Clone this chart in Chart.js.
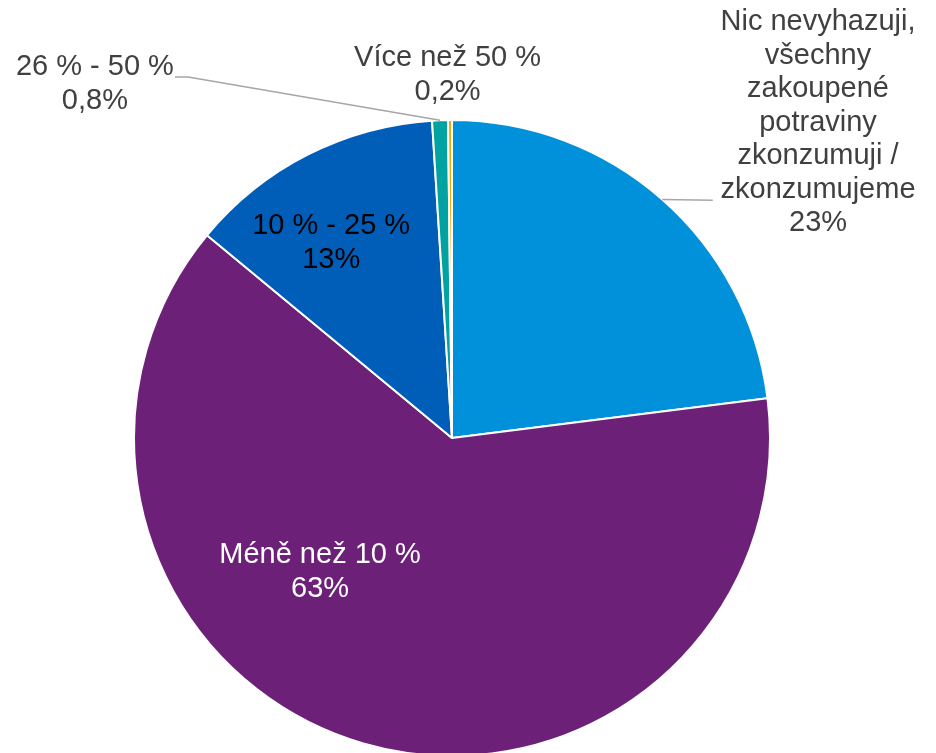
<!DOCTYPE html>
<html>
<head>
<meta charset="utf-8">
<script src="https://cdn.jsdelivr.net/npm/chart.js@4.4.1/dist/chart.umd.min.js"></script>
<style>
  html, body { margin: 0; padding: 0; background: #fff; overflow: hidden; }
  #wrap { position: relative; width: 936px; height: 757px; }
</style>
</head>
<body>
<div id="wrap"><canvas id="pie"></canvas></div>
<script>
  const categories = [
    'Nic nevyhazuji,\nvšechny\nzakoupené\npotraviny\nzkonzumuji /\nzkonzumujeme',
    'Méně než 10 %',
    '10 % - 25 %',
    '26 % - 50 %',
    'Více než 50 %'
  ];
  const values = [23, 63, 13, 0.8, 0.2];
  const colors = ['#0091DA', '#6D2077', '#005EB8', '#00A3A1', '#EAAA00'];

  // label placement, in units of the pie radius from its centre
  const labelPos = [
    { dx: 1.151, dy: -0.992, color: '#404040', leader: [[0.82, -0.748]] },
    { dx: -0.415, dy: 0.421, color: '#ffffff' },
    { dx: -0.380, dy: -0.613, color: '#000000' },
    { dx: -1.123, dy: -1.113, color: '#404040', leader: [[-0.830, -1.135], [-0.871, -1.135]] },
    { dx: -0.014, dy: -1.142, color: '#404040' }
  ];

  function pct(v) {
    return (v >= 1 ? String(v) : String(v).replace('.', ',')) + '%';
  }

  const sliceLabels = {
    id: 'sliceLabels',
    afterDraw(chart) {
      const ctx = chart.ctx;
      const arcs = chart.getDatasetMeta(0).data;
      const lineH = 33.5;
      ctx.save();
      ctx.font = '29px "Liberation Sans", Arial, sans-serif';
      ctx.textAlign = 'center';
      ctx.textBaseline = 'middle';
      arcs.forEach(function(arc, i) {
        const p = labelPos[i];
        const r = arc.outerRadius;
        const cx = arc.x, cy = arc.y;
        if (p.leader) {
          const mid = (arc.startAngle + arc.endAngle) / 2;
          ctx.beginPath();
          ctx.strokeStyle = '#A6A6A6';
          ctx.lineWidth = 1.5;
          ctx.moveTo(cx + Math.cos(mid) * r, cy + Math.sin(mid) * r);
          p.leader.forEach(function(pt) {
            ctx.lineTo(cx + pt[0] * r, cy + pt[1] * r);
          });
          ctx.stroke();
        }
        const lines = categories[i].split('\n').concat([pct(values[i])]);
        const x = cx + p.dx * r;
        const y0 = cy + p.dy * r - (lines.length - 1) * lineH / 2;
        ctx.fillStyle = p.color;
        lines.forEach(function(t, k) {
          ctx.fillText(t, x, y0 + k * lineH);
        });
      });
      ctx.restore();
    }
  };

  const data = {
    labels: categories,
    datasets: [{
      data: values,
      backgroundColor: colors,
      borderColor: '#ffffff',
      borderWidth: 2
    }]
  };

  const config = {
    type: 'pie',
    data,
    options: {
      responsive: true,
      maintainAspectRatio: false,
      animation: false,
      layout: {
        padding: { top: 119, left: 133, right: 165, bottom: 0 }
      },
      plugins: {
        legend: { display: false },
        tooltip: { enabled: false }
      }
    },
    plugins: [sliceLabels]
  };

  var pieChart = new Chart(document.getElementById('pie'), config);
</script>
</body>
</html>
